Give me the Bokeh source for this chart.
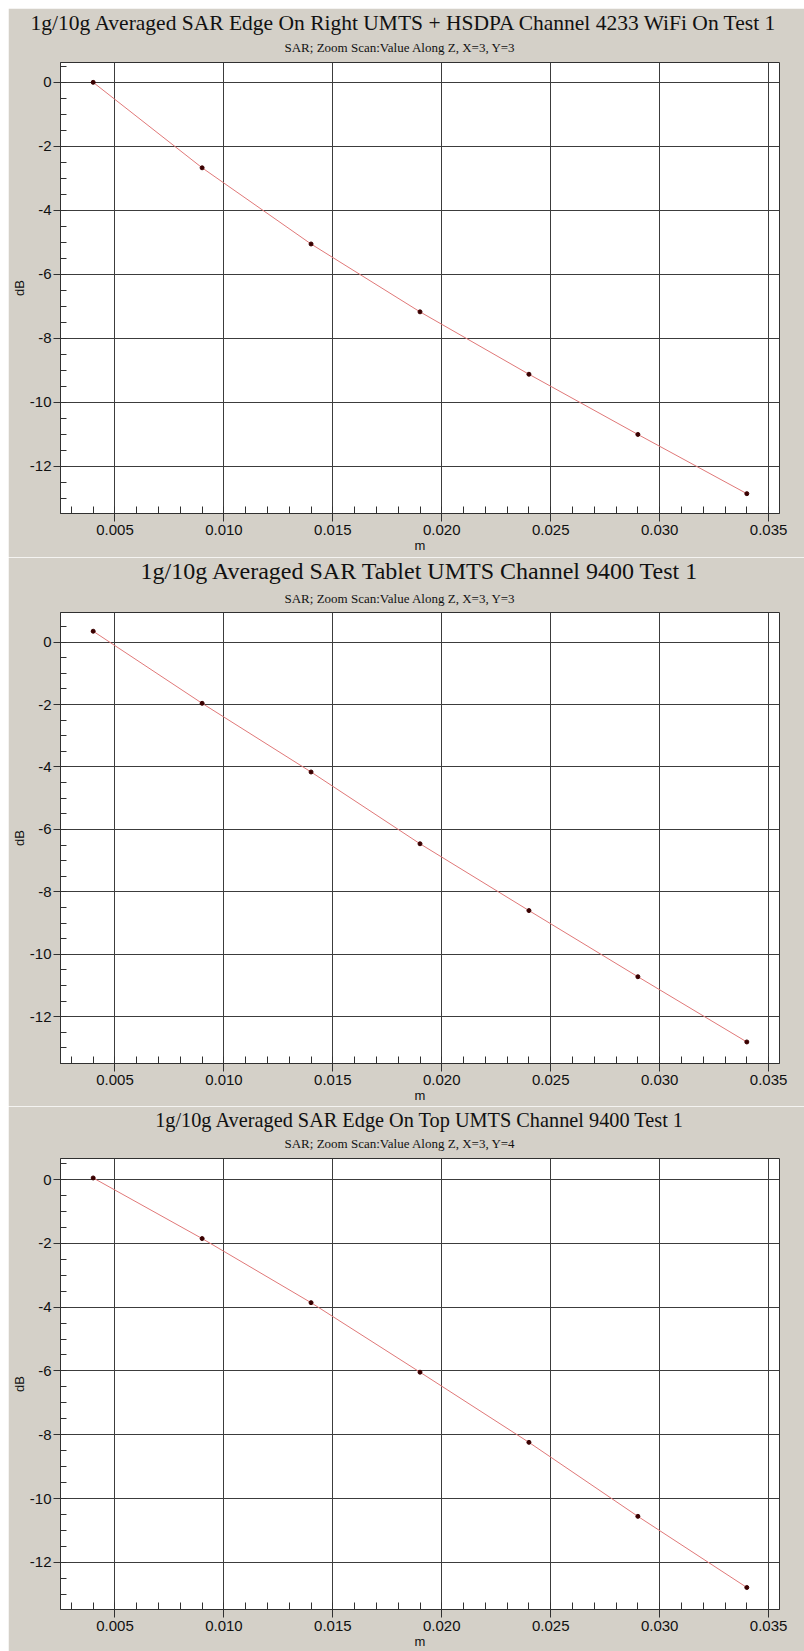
from bokeh.plotting import figure
from bokeh.models import Title, SingleIntervalTicker, PrintfTickFormatter, Range1d
from bokeh.layouts import column
from bokeh.embed import file_html
from bokeh.resources import INLINE

# ---- data ----
x_m = [0.004, 0.009, 0.014, 0.019, 0.024, 0.029, 0.034]
db_edge_right = [0.0, -2.67, -5.05, -7.17, -9.12, -11.0, -12.85]
db_tablet = [0.35, -1.96, -4.16, -6.46, -8.60, -10.72, -12.81]
db_edge_top = [0.05, -1.85, -3.86, -6.04, -8.24, -10.56, -12.79]

titles = [
    "1g/10g Averaged SAR Edge On Right UMTS + HSDPA Channel 4233 WiFi On Test 1",
    "1g/10g Averaged SAR Tablet UMTS Channel 9400 Test 1",
    "1g/10g Averaged SAR Edge On Top UMTS Channel 9400 Test 1",
]
subtitles = [
    "SAR; Zoom Scan:Value Along Z, X=3, Y=3",
    "SAR; Zoom Scan:Value Along Z, X=3, Y=3",
    "SAR; Zoom Scan:Value Along Z, X=3, Y=4",
]
x_label = "m"
y_label = "dB"
x_limits = (0.0025, 0.0355)
y_limits = [(-13.47, 0.62), (-13.50, 0.95), (-13.48, 0.66)]

BG = "#d4d0c8"
GRID = "#3c3c3c"


def make_chart(ys, title, subtitle, ylim, title_size, title_valign, title_standoff,
               title_align, title_offset, sub_standoff, bottom):
    p = figure(
        frame_width=719, frame_height=451,
        x_range=Range1d(*x_limits), y_range=Range1d(*ylim),
        output_backend="svg", toolbar_location=None,
        min_border_left=49, min_border_right=28,
        min_border_top=0, min_border_bottom=bottom,
        background_fill_color="white", border_fill_color=BG,
        outline_line_color="#303030", outline_line_width=1,
    )
    xa = p.below[0]
    ya = p.left[0]
    xa.ticker = SingleIntervalTicker(interval=0.005, num_minor_ticks=5)
    ya.ticker = SingleIntervalTicker(interval=2, num_minor_ticks=4)
    xa.formatter = PrintfTickFormatter(format="%.3f")
    ya.formatter = PrintfTickFormatter(format="%d")
    xa.axis_label = x_label
    ya.axis_label = y_label

    for ax in (xa, ya):
        ax.axis_line_color = "#303030"
        ax.major_tick_line_color = "#303030"
        ax.minor_tick_line_color = "#303030"
        ax.major_tick_in = 0
        ax.minor_tick_out = 0
        ax.major_label_text_font = "Liberation Sans"
        ax.major_label_text_font_size = "15px"
        ax.major_label_text_color = "#111111"
        ax.axis_label_text_font = "Liberation Sans"
        ax.axis_label_text_font_size = "13px"
        ax.axis_label_text_font_style = "normal"
        ax.axis_label_text_color = "#111111"
        ax.axis_label_standoff = 0
    xa.major_label_standoff = 3
    ya.major_label_standoff = 2
    xa.major_tick_out = 8
    xa.minor_tick_in = 7
    ya.major_tick_out = 7
    ya.minor_tick_in = 6

    p.add_layout(Title(text=subtitle, align="left", offset=224,
                       vertical_align="top", text_font="Liberation Serif",
                       text_font_size="13px", text_font_style="normal",
                       text_color="#111111", standoff=sub_standoff), "above")
    p.add_layout(Title(text=title, align=title_align, offset=title_offset,
                       vertical_align=title_valign, text_font="Liberation Serif",
                       text_font_size=title_size, text_font_style="normal",
                       text_color="#111111", standoff=title_standoff), "above")

    p.xgrid.grid_line_color = GRID
    p.ygrid.grid_line_color = GRID

    p.line(x_m, ys, line_color="#e07878", line_width=1)
    p.scatter(x_m, ys, size=4, fill_color="#3a0000", line_color="#3a0000")
    return p


p1 = make_chart(db_edge_right, titles[0], subtitles[0], y_limits[0],
                "21.5px", "bottom", 0, "left", -30, 11, 44)
p2 = make_chart(db_tablet, titles[1], subtitles[1], y_limits[1],
                "24px", "top", 0, "center", 0, 10, 43)
p3 = make_chart(db_edge_top, titles[2], subtitles[2], y_limits[2],
                "20.3px", "bottom", 0, "center", 0, 11, 43)

layout = column(p1, p2, p3, spacing=0, margin=(8, 0, 0, 8))
open("out.html", "w").write(file_html(layout, INLINE))
